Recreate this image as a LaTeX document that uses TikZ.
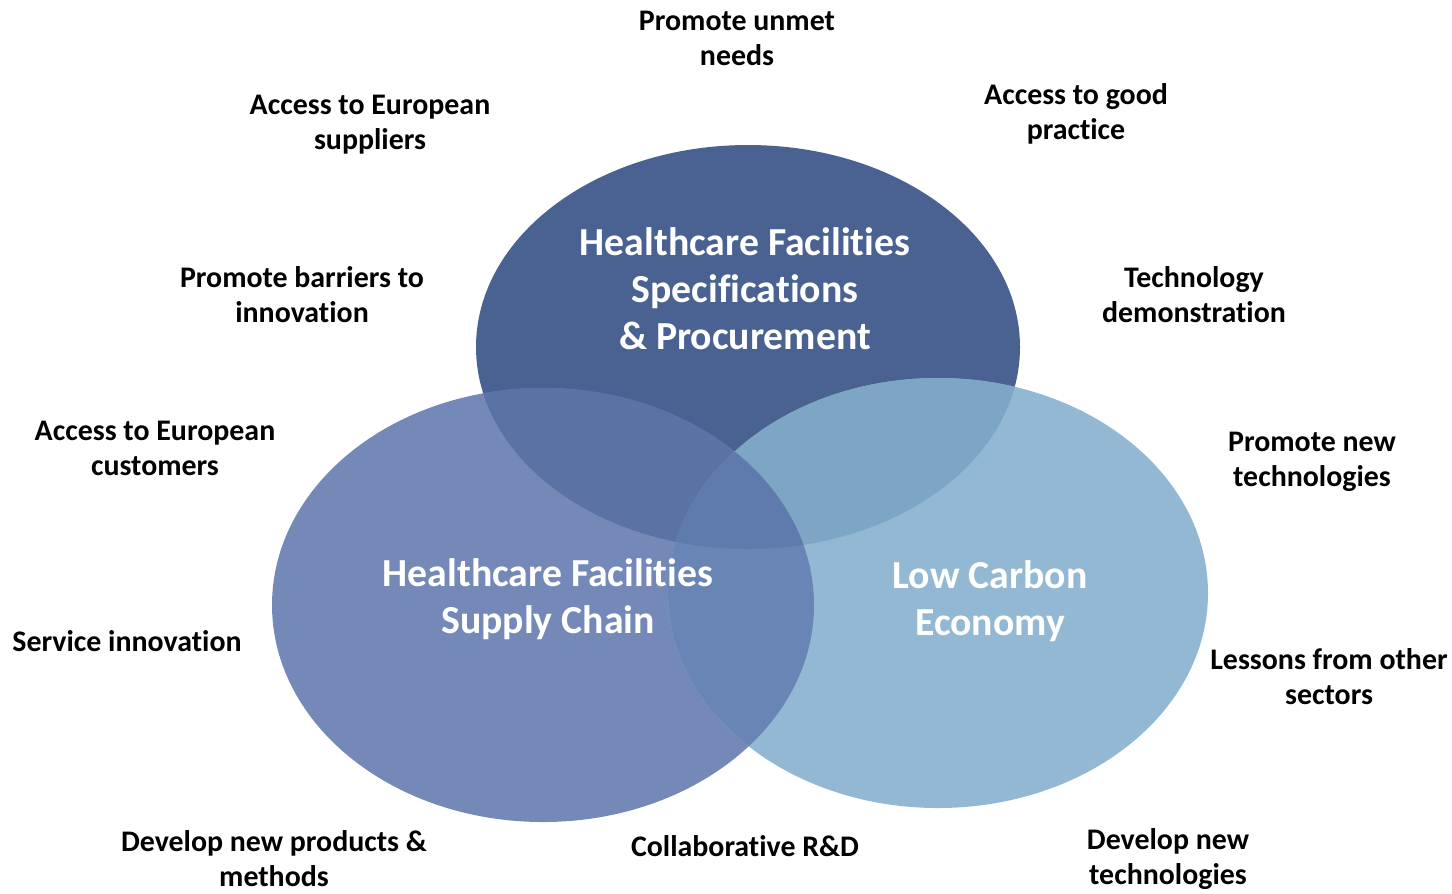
\documentclass[tikz,border=0pt]{standalone}
\usepackage{fontspec}
\setmainfont{Carlito}[Ligatures={NoCommon,NoContextual}, Contextuals=NoAlternate, RawFeature={-liga}]
\definecolor{ctop}{HTML}{4A6291}
\definecolor{cleft}{HTML}{7489B8}
\definecolor{cright}{HTML}{93B8D3}
\definecolor{ctl}{HTML}{5A72A4}
\definecolor{ctr}{HTML}{7DA6C4}
\definecolor{clr}{HTML}{6985B5}
\definecolor{call}{HTML}{5F7BAD}
\tikzset{
  lbl/.style={font=\fontsize{8.5}{10}\selectfont\bfseries, align=center, inner sep=0pt},
  ttl/.style={font=\fontsize{11.3}{13.4}\selectfont\bfseries, align=center, inner sep=0pt, text=white}
}
\begin{document}
\begin{tikzpicture}[x=0.01cm,y=-0.01cm]
\useasboundingbox (0,0) rectangle (1452,893);

% Ellipses
\def\etop{(748,347) ellipse [x radius=272, y radius=202]}
\def\eleft{(543,605) ellipse [x radius=271, y radius=217]}
\def\eright{(938,593) ellipse [x radius=270, y radius=215]}
\fill[ctop] \etop;
\fill[cleft] \eleft;
\fill[cright] \eright;

% Overlaps
\begin{scope}
  \clip \etop;
  \fill[ctl] \eleft;
  \fill[ctr] \eright;
\end{scope}
\begin{scope}
  \clip \eleft;
  \fill[clr] \eright;
  \clip \etop;
  \fill[call] \eright;
\end{scope}

% Titles
\node[ttl] (hsp) at (745,289) {Healthcare Facilities\\Specifications\\\& Procurement};
\node[ttl] (hsc) at (548,599) {Healthcare Facilities\\Supply Chain};
\node[ttl] (lce) at (990,601) {Low Carbon\\Economy};

% Labels
\node[lbl] (unmet) at (737,38) {Promote unmet\\needs};
\node[lbl] (supp) at (370,125) {Access to European\\suppliers};
\node[lbl] (good) at (1076,114) {Access to good\\practice};
\node[lbl] (barr) at (302,295) {Promote barriers to\\innovation};
\node[lbl] (demo) at (1194,295) {Technology\\demonstration};
\node[lbl] (cust) at (155,448) {Access to European\\customers};
\node[lbl] (newt) at (1312,462) {Promote new\\technologies};
\node[lbl] (serv) at (127,641) {Service innovation};
\node[lbl] (less) at (1329,677) {Lessons from other\\sectors};
\node[lbl] (prod) at (274,859) {Develop new products \&\\methods};
\node[lbl] (rnd) at (745,846) {Collaborative R\&D};
\node[lbl] (devt) at (1168,859) {Develop new\\technologies};
\end{tikzpicture}
\end{document}
